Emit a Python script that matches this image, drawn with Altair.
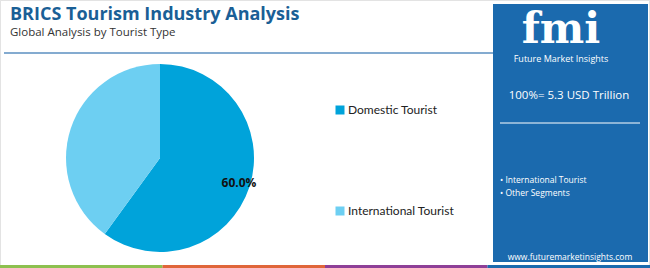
import altair as alt
import pandas as pd

# ---- data ----
categories = ["Domestic Tourist", "International Tourist"]
shares = [60.0, 40.0]
slice_labels = ["60.0%", ""]
colors = ["#00a3da", "#6dcff2"]

title_text = "BRICS Tourism Industry Analysis"
subtitle_text = "Global Analysis by Tourist Type"
total_text = "100%= 5.3 USD Trillion"
panel_items = ["• International Tourist", "• Other Segments"]
site_text = "www.futuremarketinsights.com"
bar_colors = ["#8dc04f", "#e0663a", "#8e3f97", "#1b6aae"]

W, H = 650, 268

pie_df = pd.DataFrame({"category": categories, "value": shares,
                       "label": slice_labels, "order": [0, 1]})
one = pd.DataFrame({"a": [0]})

color_scale = alt.Scale(domain=categories, range=colors)

pie = alt.Chart(pie_df).mark_arc(outerRadius=94, stroke=None).encode(
    theta=alt.Theta("value:Q", stack=True),
    order=alt.Order("order:Q"),
    color=alt.Color("category:N", scale=color_scale,
                    legend=alt.Legend(title=None, orient="none", legendX=334, legendY=104,
                                      direction="vertical", symbolType="square",
                                      symbolSize=81, symbolStrokeWidth=0,
                                      labelFontSize=12, labelFont="Lato",
                                      labelColor="#222222", rowPadding=89,
                                      labelOffset=2)),
    x=alt.value(160), y=alt.value(158),
)

pie_text = alt.Chart(pie_df).mark_text(radius=82, fontSize=12, fontWeight="bold",
                                       font="Open Sans", color="#111111").encode(
    theta=alt.Theta("value:Q", stack=True),
    order=alt.Order("order:Q"),
    text="label:N",
    x=alt.value(161), y=alt.value(158),
)

def txt(s, x, y, size, color, weight="normal", align="left", font="Open Sans"):
    return alt.Chart(one).mark_text(text=s, align=align, baseline="alphabetic",
                                    fontSize=size, fontWeight=weight, color=color,
                                    font=font).encode(x=alt.value(x), y=alt.value(y))

def rect(x, x2, y, y2, color):
    return alt.Chart(one).mark_rect(color=color).encode(
        x=alt.value(x), x2=alt.value(x2), y=alt.value(y), y2=alt.value(y2))

border = alt.Chart(one).mark_rect(fill="white", stroke="#e3e3e3", strokeWidth=1).encode(
    x=alt.value(0.5), x2=alt.value(W - 0.5), y=alt.value(0.5), y2=alt.value(H - 0.5))

sep = alt.Chart(one).mark_rule(color="#5b8fc0", strokeWidth=1.5).encode(
    x=alt.value(4), x2=alt.value(493), y=alt.value(53))

panel = rect(493, 648, 4, 262, "#1b6aae")
panel_line = alt.Chart(one).mark_rule(color="white", strokeWidth=1).encode(
    x=alt.value(500), x2=alt.value(640), y=alt.value(123))

layers = [border, sep, panel, panel_line]
seg_w = W / 4
for i, c in enumerate(bar_colors):
    layers.append(rect(i * seg_w, (i + 1) * seg_w, 265, 268, c))

layers += [
    txt(title_text, 10, 20, 18, "#1a5f96", weight="bold"),
    txt(subtitle_text, 10, 36, 11.5, "#333333"),
    txt("fmi", 561, 43, 42, "white", weight="bold", align="center", font="DejaVu Serif"),
    txt("Future Market Insights", 561, 62, 9, "white", align="center"),
    txt(total_text, 569, 99, 11.5, "white", align="center"),
    txt(panel_items[0], 500, 183, 8.5, "white"),
    txt(panel_items[1], 500, 196, 8.5, "white"),
    txt(site_text, 570, 260, 8.5, "white", align="center"),
    pie, pie_text,
]

chart = alt.layer(*layers).properties(
    width=W, height=H, padding=0,
    autosize=alt.AutoSizeParams(type="none"),
).configure_view(stroke=None).configure(background="white")

chart.save("out.html", embed_options={"renderer": "svg", "actions": False})
